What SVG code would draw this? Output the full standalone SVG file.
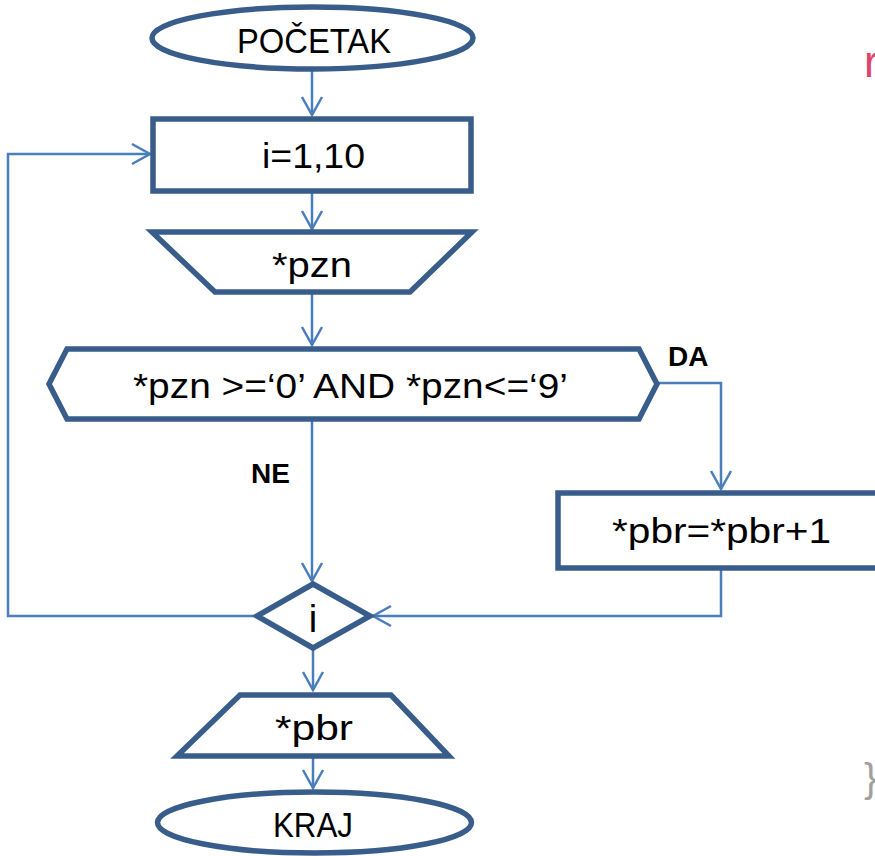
<svg xmlns="http://www.w3.org/2000/svg" width="875" height="856" viewBox="0 0 875 856">
<style>
.shape{fill:#ffffff;stroke:#385d8a;stroke-width:5.5;stroke-linejoin:miter}
.conn{fill:none;stroke:#4a7ebb;stroke-width:2.5}
.t{font-family:"Liberation Sans",Arial,sans-serif;font-size:35px;fill:#000;text-anchor:middle}
.lbl{font-family:"Liberation Sans",Arial,sans-serif;font-size:28px;font-weight:bold;fill:#000}
</style>
<defs>
<marker id="arr" viewBox="-21 -12 24 24" refX="0" refY="0" markerWidth="24" markerHeight="24" markerUnits="userSpaceOnUse" orient="auto">
<path d="M-18,-10 L0,0 L-18,10" fill="none" stroke="#4a7ebb" stroke-width="2.5"/>
</marker>
</defs>
<rect width="875" height="856" fill="#ffffff"/>
<g id="connectors">
<line class="conn" x1="312" y1="69" x2="312" y2="115" marker-end="url(#arr)"/>
<line class="conn" x1="312" y1="192" x2="312" y2="229" marker-end="url(#arr)"/>
<line class="conn" x1="312" y1="293" x2="312" y2="345" marker-end="url(#arr)"/>
<polyline class="conn" points="658,383 721,383 721,489" marker-end="url(#arr)"/>
<line class="conn" x1="312" y1="420" x2="312" y2="581" marker-end="url(#arr)"/>
<polyline class="conn" points="721,568 721,616 373,616" marker-end="url(#arr)"/>
<polyline class="conn" points="257,616 8,616 8,154 150,154" marker-end="url(#arr)"/>
<line class="conn" x1="313" y1="649" x2="313" y2="690" marker-end="url(#arr)"/>
<line class="conn" x1="313" y1="757" x2="313" y2="788" marker-end="url(#arr)"/>
</g>
<g id="start">
<ellipse class="shape" cx="312.5" cy="38" rx="160.5" ry="31"/>
<text class="t" x="314" y="53" textLength="154" lengthAdjust="spacingAndGlyphs">POČETAK</text>
</g>
<g id="loop">
<rect class="shape" x="153" y="119" width="318" height="72"/>
<text class="t" x="313.5" y="168" textLength="103" lengthAdjust="spacingAndGlyphs">i=1,10</text>
</g>
<g id="input">
<polygon class="shape" points="152,232 472,232 410,292 215,292"/>
<text class="t" x="312" y="277" textLength="80" lengthAdjust="spacingAndGlyphs">*pzn</text>
</g>
<g id="condition">
<polygon class="shape" points="67,349 639,349 657,384 639,419 67,419 49,384"/>
<text class="t" x="350.5" y="398" textLength="435" lengthAdjust="spacingAndGlyphs">*pzn &gt;=‘0’ AND *pzn&lt;=‘9’</text>
</g>
<g id="increment">
<rect class="shape" x="558" y="493" width="330" height="75"/>
<text class="t" x="721.5" y="543" textLength="219" lengthAdjust="spacingAndGlyphs">*pbr=*pbr+1</text>
</g>
<g id="loopend">
<polygon class="shape" points="313,584 370,616 313,648 257,616"/>
<text class="t" x="313" y="632" style="font-size:38px">i</text>
</g>
<g id="output">
<polygon class="shape" points="240,695 391,695 449,756 177,756"/>
<text class="t" x="314" y="740" textLength="78" lengthAdjust="spacingAndGlyphs">*pbr</text>
</g>
<g id="end">
<ellipse class="shape" cx="314.5" cy="822.5" rx="157" ry="30.5"/>
<text class="t" x="313" y="837" textLength="80" lengthAdjust="spacingAndGlyphs">KRAJ</text>
</g>
<text class="lbl" x="668" y="366">DA</text>
<text class="lbl" x="251" y="483">NE</text>
<text x="864" y="77" style="font-family:'Liberation Sans',Arial,sans-serif;font-size:44px;fill:#e0446c">r</text>
<text x="864" y="792" style="font-family:'Liberation Sans',Arial,sans-serif;font-size:40px;fill:#a0a0a0">}</text>
</svg>
